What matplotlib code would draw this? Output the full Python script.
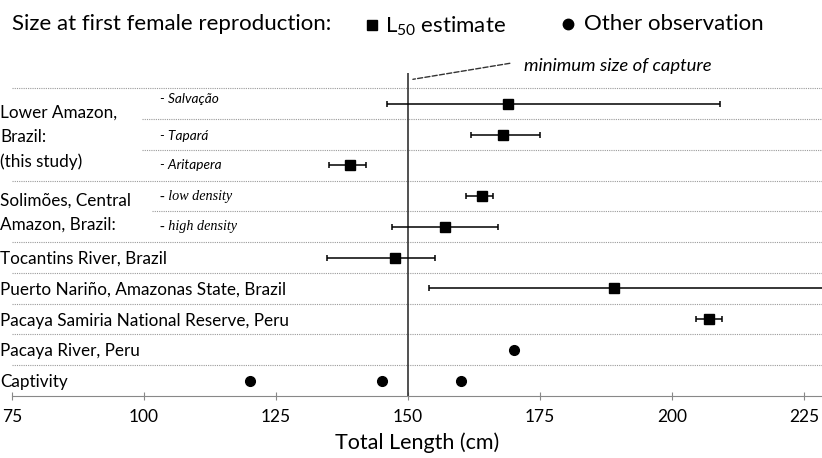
import numpy as np
import matplotlib.pyplot as plt

plt.rcParams['font.family'] = ['Lato', 'DejaVu Sans']
plt.rcParams['mathtext.fontset'] = 'custom'
plt.rcParams['mathtext.rm'] = 'Lato'

# rows from top (0) to bottom (9)
l50_row = [0, 1, 2, 3, 4, 5, 6, 7]
l50 = [169, 168, 139, 164, 157, 147.5, 189, 207]
l50_lo = [146, 162, 135, 161, 147, 134.6, 154, 204.5]
l50_hi = [209, 175, 142, 166, 167, 155.2, 240, 209.5]

obs_row = [8, 9, 9, 9]
obs_x = [170, 120, 145, 160]

groups = ['Lower Amazon,\nBrazil:\n(this study)', 'Solimões, Central\nAmazon, Brazil:',
          'Tocantins River, Brazil', 'Puerto Nariño, Amazonas State, Brazil',
          'Pacaya Samiria National Reserve, Peru', 'Pacaya River, Peru', 'Captivity']
group_y = [1.05, 3.5, 5, 6, 7, 8, 9]

subs = ['- Salvação', '- Tapará', '- Aritapera', '- low density', '- high density']
sub_y = [-0.15, 0.05, 0, 0, 0]
sub_y = [i + d for i, d in enumerate(sub_y)]

seps = [-0.5, 0.5, 1.5, 2.5, 3.5, 4.5, 5.5, 6.5, 7.5, 8.5]
sep_start = [75, 99.6, 99.6, 75, 101.5, 75, 75, 75, 75, 75]

xticks = [75, 100, 125, 150, 175, 200, 225]
min_capture = 150

fig = plt.figure(figsize=(8.22, 4.58), dpi=100)
ax = fig.add_axes([12/822, 62/458, 810/822, 323/458])

for y, x0 in zip(seps, sep_start):
    ax.plot([x0, 240], [y, y], color='#9a9a9a', lw=0.8, linestyle=(0, (1, 1)), zorder=1)

ax.axvline(min_capture, color='#333333', lw=1.2, zorder=2)

l50 = np.array(l50)
err = [l50 - np.array(l50_lo), np.array(l50_hi) - l50]
ax.errorbar(l50, l50_row, xerr=err, fmt='s', color='black', ms=7, lw=1.1,
            capsize=2.5, capthick=1.1, zorder=3)
ax.plot(obs_x, obs_row, 'o', color='black', ms=7, zorder=3)

for txt, y in zip(groups, group_y):
    ax.text(72.8, y + 0.05, txt, ha='left', va='center', fontsize=12.3,
            linespacing=1.62, clip_on=False)
for i, (txt, y) in enumerate(zip(subs, sub_y)):
    if i < 3:
        ax.text(103, y, txt, ha='left', va='center', fontsize=9.8, style='italic')
    else:
        ax.text(103, y, txt, ha='left', va='center', fontsize=10.2, style='italic',
                family='Liberation Serif')

ax.annotate('', xy=(150.4, -0.78), xytext=(169.8, -1.33), annotation_clip=False,
            arrowprops=dict(arrowstyle='-', linestyle='--', color='#333333', lw=1))
ax.text(172, -1.22, 'minimum size of capture', ha='left', va='center',
        fontsize=13.3, style='italic', clip_on=False)

ax.set_xlim(75, 228.4)
ax.set_ylim(9.5, -1)
ax.set_xticks(xticks)
ax.set_yticks([])
for s in ['top', 'right', 'left']:
    ax.spines[s].set_visible(False)
ax.spines['bottom'].set_color('#888888')
ax.tick_params(axis='x', direction='inout', length=6, color='#888888',
               labelsize=12.5, pad=6)
ax.set_xlabel('Total Length (cm)', fontsize=15.5, labelpad=6)

fig.text(12/822, 1 - 24/458, 'Size at first female reproduction:', fontsize=16,
         ha='left', va='center')
ax.plot([372/822], [1 - 25/458], 's', color='black', ms=6.5,
        transform=fig.transFigure, clip_on=False)
fig.text(385/822, 1 - 26/458, 'L$_{50}$ estimate', fontsize=16, ha='left', va='center')
ax.plot([568/822], [1 - 24/458], 'o', color='black', ms=7.5,
        transform=fig.transFigure, clip_on=False)
fig.text(584/822, 1 - 24/458, 'Other observation', fontsize=16, ha='left', va='center')

fig.savefig('out.png', dpi=100)
